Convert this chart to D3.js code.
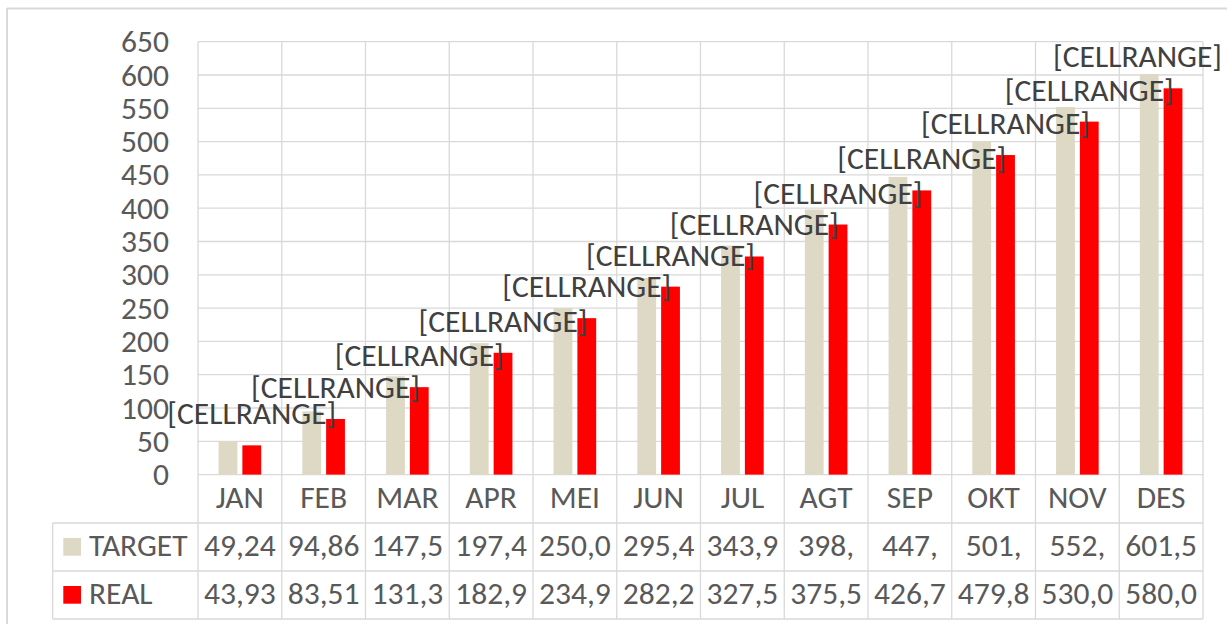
<!DOCTYPE html>
<html>
<head>
<meta charset="utf-8">
<script src="https://cdn.jsdelivr.net/npm/d3@7"></script>
<style>
  body { margin: 0; background: #fff; }
  text { font-family: Carlito, Lato, sans-serif; }
</style>
</head>
<body>
<div id="chart"></div>
<script>
const months = ["JAN", "FEB", "MAR", "APR", "MEI", "JUN", "JUL", "AGT", "SEP", "OKT", "NOV", "DES"]
const target = [49.24, 94.86, 147.5, 197.4, 250.0, 295.4, 343.9, 398.0, 447.0, 501.0, 552.0, 601.5]
const real = [43.93, 83.51, 131.3, 182.9, 234.9, 282.2, 327.5, 375.5, 426.7, 479.8, 530.0, 580.0]
// what the data table shows (cut off like in the original)
const targetLabels = ["49,24", "94,86", "147,5", "197,4", "250,0", "295,4", "343,9", "398,", "447,", "501,", "552,", "601,5"]
const realLabels = ["43,93", "83,51", "131,3", "182,9", "234,9", "282,2", "327,5", "375,5", "426,7", "479,8", "530,0", "580,0"]
const yTicks = [0, 50, 100, 150, 200, 250, 300, 350, 400, 450, 500, 550, 600, 650]
const seriesNames = ["TARGET", "REAL"]
const seriesColors = ["#DDD9C4", "#FF0000"]

const W = 1227, H = 624
const grid = "#D9D9D9"
const fs = "31.5px"

const svg = d3.select("#chart").append("svg")
  .attr("width", W)
  .attr("height", H)

// chart area frame (left + top visible)
svg.append("line").attr("x1", 7).attr("x2", W).attr("y1", 8.5).attr("y2", 8.5)
  .attr("stroke", grid).attr("stroke-width", 2)
svg.append("line").attr("x1", 7).attr("x2", 7).attr("y1", 8).attr("y2", H)
  .attr("stroke", grid).attr("stroke-width", 2)

const x0 = d3.scaleBand()
  .domain(months)
  .range([198, 1203])

const x1 = d3.scaleBand()
  .domain(seriesNames)
  .range([x0.bandwidth() / 2 - 21.3, x0.bandwidth() / 2 + 21.3])
  .paddingInner(0.21)

const y = d3.scaleLinear()
  .domain([0, 650])
  .range([474.6, 41.7])

const tableRows = [523, 571, 619]
const tableLeft = 52.7

// horizontal gridlines
svg.append("g").selectAll("line")
  .data(yTicks)
  .enter().append("line")
    .attr("x1", 198).attr("x2", 1203)
    .attr("y1", d => y(d)).attr("y2", d => y(d))
    .attr("stroke", grid).attr("stroke-width", 1.3)

// vertical lines: category boundaries through plot and table
const bounds = months.map(m => x0(m)).concat([x0.range()[1]])
svg.append("g").selectAll("line")
  .data(bounds)
  .enter().append("line")
    .attr("x1", d => d).attr("x2", d => d)
    .attr("y1", y(650)).attr("y2", tableRows[2])
    .attr("stroke", grid).attr("stroke-width", 1.3)

// table horizontal lines
svg.append("g").selectAll("line")
  .data(tableRows)
  .enter().append("line")
    .attr("x1", tableLeft).attr("x2", 1203)
    .attr("y1", d => d).attr("y2", d => d)
    .attr("stroke", grid).attr("stroke-width", 1.3)
svg.append("line")
  .attr("x1", tableLeft).attr("x2", tableLeft)
  .attr("y1", tableRows[0]).attr("y2", tableRows[2])
  .attr("stroke", grid).attr("stroke-width", 1.3)

// bars
const series = [target, real]
series.forEach((vals, si) => {
  svg.append("g").selectAll("rect")
    .data(vals)
    .enter().append("rect")
      .attr("x", (d, i) => x0(months[i]) + x1(seriesNames[si]))
      .attr("width", x1.bandwidth())
      .attr("y", d => y(d))
      .attr("height", d => y(0) - y(d))
      .attr("fill", seriesColors[si])
})

// y axis labels
const yAxis = d3.axisLeft(y).tickValues(yTicks).tickSize(0).tickPadding(0)
const gy = svg.append("g")
  .attr("transform", "translate(169,0)")
  .call(yAxis)
gy.select(".domain").remove()
gy.selectAll("text")
  .attr("fill", "#595959")
  .style("font-size", fs)
  .style("font-family", "Carlito, Lato, sans-serif")

// data labels above REAL bars
svg.append("g").selectAll("text")
  .data(real)
  .enter().append("text")
    .attr("x", (d, i) => x0(months[i]) + x1("REAL") + x1.bandwidth() / 2)
    .attr("y", d => y(d) - 21)
    .attr("text-anchor", "middle")
    .attr("fill", "#404040")
    .style("font-size", fs)
    .text("[CELLRANGE]")
    .each(function () {
      // keep labels inside the chart area
      const b = this.getBBox()
      if (b.x + b.width > 1222) {
        d3.select(this).attr("x", +d3.select(this).attr("x") - (b.x + b.width - 1222))
      }
    })

// category row
svg.append("g").selectAll("text")
  .data(months)
  .enter().append("text")
    .attr("x", d => x0(d) + x0.bandwidth() / 2)
    .attr("y", 508)
    .attr("text-anchor", "middle")
    .attr("fill", "#595959")
    .style("font-size", fs)
    .text(d => d)

// table rows
const rowBase = [556, 604]
const rowLabels = [targetLabels, realLabels]
rowLabels.forEach((labels, si) => {
  svg.append("g").selectAll("text")
    .data(labels)
    .enter().append("text")
      .attr("x", (d, i) => x0(months[i]) + x0.bandwidth() / 2)
      .attr("y", rowBase[si])
      .attr("text-anchor", "middle")
      .attr("fill", "#595959")
      .style("font-size", fs)
      .text(d => d)

  svg.append("rect")
    .attr("x", 63.3).attr("y", rowBase[si] - 18)
    .attr("width", 17.7).attr("height", 17.7)
    .attr("fill", seriesColors[si])
  svg.append("text")
    .attr("x", 89)
    .attr("y", rowBase[si])
    .attr("fill", "#595959")
    .style("font-size", fs)
    .text(seriesNames[si])
})
</script>
</body>
</html>
